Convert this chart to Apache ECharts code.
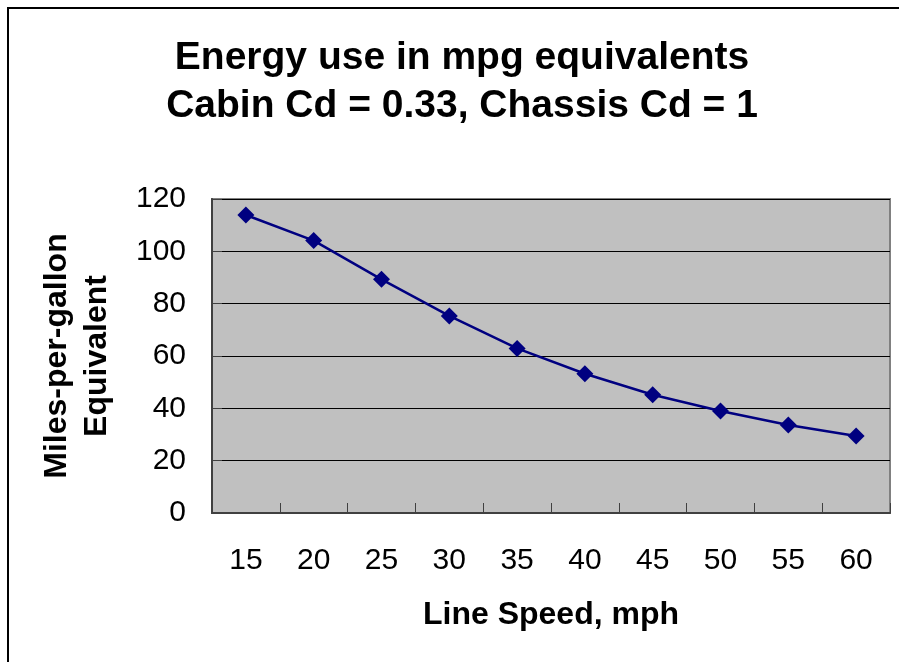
<!DOCTYPE html>
<html>
<head>
<meta charset="utf-8">
<script src="https://cdn.jsdelivr.net/npm/echarts@6/dist/echarts.min.js"></script>
<style>
html,body{margin:0;padding:0;background:#fff;}
#chart{width:899px;height:662px;}
</style>
</head>
<body>
<div id="chart"></div>
<script>
var speeds = ['15','20','25','30','35','40','45','50','55','60'];
var mpgValues = [113.9, 104.1, 89.3, 75.3, 62.9, 53.2, 45.2, 39.0, 33.6, 29.4];
var yTicks = {min: 0, max: 120, interval: 20};
var titleText = 'Energy use in mpg equivalents\nCabin Cd = 0.33, Chassis Cd = 1';
var xName = 'Line Speed, mph';
var yName = 'Miles-per-gallon\nEquivalent';

var FONT = '"Liberation Sans", Arial, sans-serif';
var chart = echarts.init(document.getElementById('chart'), null, {renderer: 'canvas'});
chart.setOption({
  backgroundColor: '#ffffff',
  animation: false,
  graphic: [{
    type: 'rect',
    shape: {x: 8, y: 8, width: 1000, height: 1000},
    style: {fill: 'none', stroke: '#000', lineWidth: 2},
    z: 100
  }],
  title: {
    text: titleText,
    left: 457,
    textAlign: 'center',
    top: 29,
    textStyle: {fontFamily: FONT, fontWeight: 'bold', fontSize: 39, lineHeight: 48, color: '#000'}
  },
  grid: {
    left: 212, top: 199, right: 9, bottom: 149,
    show: true, backgroundColor: '#c0c0c0', borderColor: '#808080', borderWidth: 2
  },
  xAxis: {
    type: 'category',
    data: speeds,
    boundaryGap: true,
    name: xName,
    nameLocation: 'middle',
    nameGap: 86,
    nameTextStyle: {fontFamily: FONT, fontWeight: 'bold', fontSize: 32, color: '#000', lineHeight: 32},
    axisLine: {lineStyle: {color: '#404040', width: 2}},
    axisTick: {show: true, inside: true, length: 10, lineStyle: {color: '#404040', width: 1}},
    axisLabel: {fontFamily: FONT, fontSize: 30, color: '#000', margin: 33},
    splitLine: {show: false}
  },
  yAxis: {
    type: 'value',
    min: yTicks.min, max: yTicks.max, interval: yTicks.interval,
    name: yName,
    nameLocation: 'middle',
    nameGap: 95,
    nameRotate: 90,
    nameTextStyle: {fontFamily: FONT, fontWeight: 'bold', fontSize: 32, color: '#000', lineHeight: 40},
    axisLine: {show: true, lineStyle: {color: '#404040', width: 2}},
    axisTick: {show: true, inside: true, length: 10, lineStyle: {color: '#404040', width: 1}},
    axisLabel: {fontFamily: FONT, fontSize: 30, color: '#000', margin: 26},
    splitLine: {show: true, lineStyle: {color: '#000', width: 1}}
  },
  series: [{
    type: 'line',
    data: mpgValues,
    symbol: 'diamond',
    symbolSize: 17,
    showAllSymbol: true,
    lineStyle: {color: '#000080', width: 2.5},
    itemStyle: {color: '#000080'}
  }]
});
</script>
</body>
</html>
